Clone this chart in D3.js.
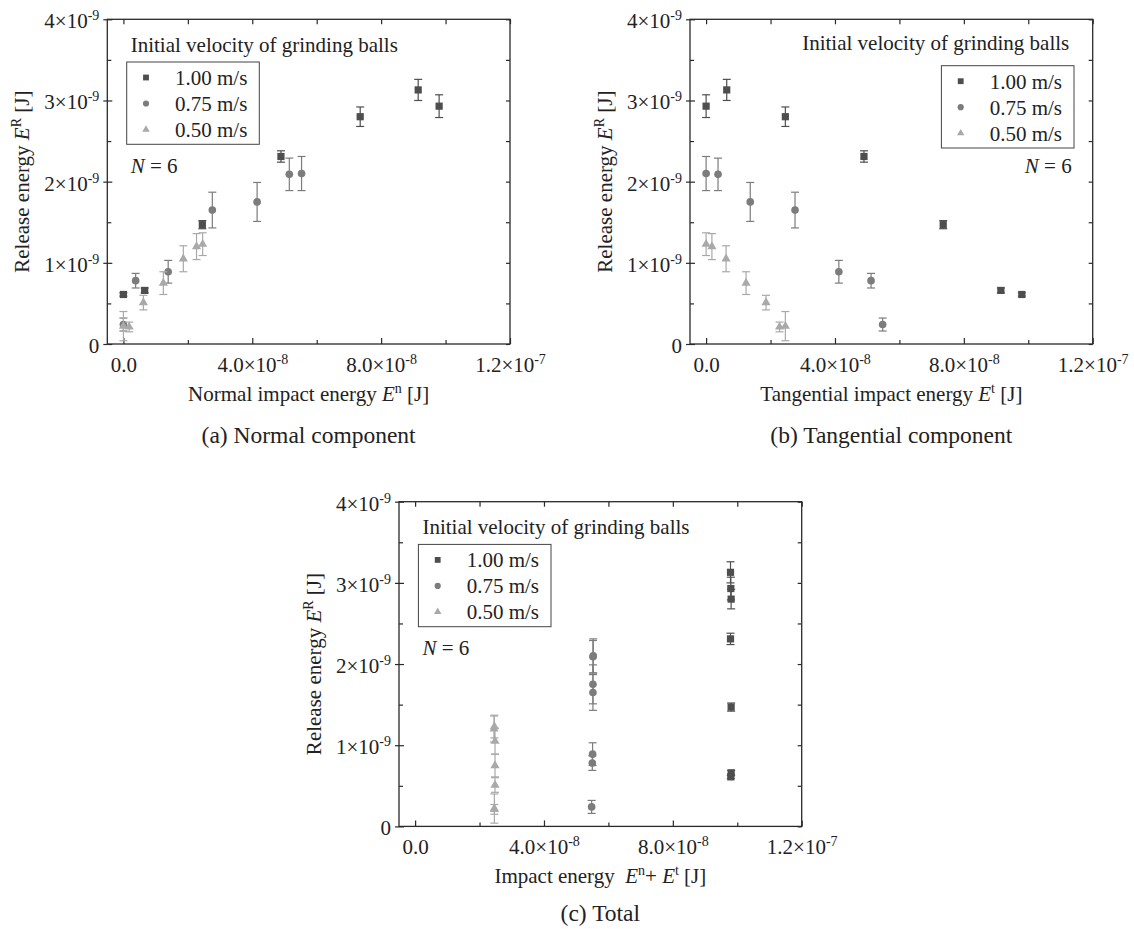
<!DOCTYPE html>
<html>
<head>
<meta charset="utf-8">
<script src="https://cdn.jsdelivr.net/npm/d3@7"></script>
<style>
body { margin: 0; background: #fff; }
svg, svg text { font-family: "Liberation Serif", "Times New Roman", serif; }
svg { display: block; }
text { white-space: pre; }
</style>
</head>
<body>
<script>
const W = 1134, H = 929;

const velocities = ["1.00 m/s", "0.75 m/s", "0.50 m/s"];
const colors = ["#4e4e4e", "#7c7c7c", "#a9a9a9"];

// normal / tangential impact energy [J], release energy [J], error bar half-height [J]
const en100 = [0, 0.66e-8, 2.45e-8, 4.89e-8, 7.35e-8, 9.15e-8, 9.80e-8];
const et100 = [9.80e-8, 9.15e-8, 7.36e-8, 4.90e-8, 2.46e-8, 0.64e-8, 0];
const er100 = [0.61e-9, 0.66e-9, 1.47e-9, 2.31e-9, 2.80e-9, 3.13e-9, 2.93e-9];
const err100 = [0.02e-9, 0.03e-9, 0.05e-9, 0.07e-9, 0.12e-9, 0.13e-9, 0.14e-9];

const en75 = [0, 0.38e-8, 1.39e-8, 2.76e-8, 4.15e-8, 5.15e-8, 5.53e-8];
const et75 = [5.48e-8, 5.12e-8, 4.12e-8, 2.76e-8, 1.37e-8, 0.37e-8, 0];
const er75 = [0.24e-9, 0.78e-9, 0.89e-9, 1.65e-9, 1.75e-9, 2.09e-9, 2.10e-9];
const err75 = [0.08e-9, 0.09e-9, 0.14e-9, 0.22e-9, 0.24e-9, 0.20e-9, 0.21e-9];

const en50 = [0, 0.18e-8, 0.62e-8, 1.24e-8, 1.86e-8, 2.27e-8, 2.46e-8];
const et50 = [2.46e-8, 2.28e-8, 1.86e-8, 1.24e-8, 0.62e-8, 0.18e-8, 0];
const er50 = [0.22e-9, 0.21e-9, 0.51e-9, 0.75e-9, 1.05e-9, 1.20e-9, 1.23e-9];
const err50 = [0.18e-9, 0.06e-9, 0.09e-9, 0.14e-9, 0.16e-9, 0.16e-9, 0.14e-9];

const xTicks = [0, 4e-8, 8e-8, 1.2e-7];
const xTickBase = ["0.0", "4.0×10", "8.0×10", "1.2×10"];
const xTickExp = ["", "-8", "-8", "-7"];
const xMinor = [2e-8, 6e-8, 1e-7];
const yTicks = [0, 1e-9, 2e-9, 3e-9, 4e-9];
const yTickBase = ["0", "1×10", "2×10", "3×10", "4×10"];
const yTickExp = ["", "-9", "-9", "-9", "-9"];
const yMinor = [0.5e-9, 1.5e-9, 2.5e-9, 3.5e-9];

const series = [
  { en: en100, et: et100, er: er100, err: err100, sym: d3.symbolSquare, size: 52, lsize: 34 },
  { en: en75, et: et75, er: er75, err: err75, sym: d3.symbolCircle, size: 46, lsize: 30 },
  { en: en50, et: et50, er: er50, err: err50, sym: d3.symbolTriangle, size: 36, lsize: 24 }
];

const pw = 402.7, ph = 324.7;
const x = d3.scaleLinear().domain([-0.5e-8, 1.2e-7]).range([0, pw]);
const y = d3.scaleLinear().domain([0, 4e-9]).range([ph, 0]);

const svg = d3.select("body").append("svg")
  .attr("width", W)
  .attr("height", H)
  .attr("font-family", "Liberation Serif, Times New Roman, serif");

function supLabels(axisG, base, exp) {
  axisG.selectAll(".tick text").each(function(d, i) {
    const t = d3.select(this).text(null);
    t.append("tspan").text(base[i]);
    if (exp[i]) t.append("tspan").attr("dy", -8).attr("font-size", 14).text(exp[i]);
  });
}

function styleAxis(axisG) {
  axisG.attr("font-family", "Liberation Serif, Times New Roman, serif").attr("font-size", 21).attr("color", "#2a2a2a");
  axisG.select(".domain").remove();
  axisG.selectAll(".tick line").attr("stroke-width", 1.2);
  axisG.selectAll(".tick text").attr("fill", "#222");
}

function panel(px, py, getX, titleParts, caption, legendRight) {
  const g = svg.append("g").attr("transform", `translate(${px},${py})`);

  // bottom axis with labels
  const bx = g.append("g").attr("transform", `translate(0,${ph})`)
    .call(d3.axisBottom(x).tickValues(xTicks).tickSize(-6));
  styleAxis(bx);
  bx.selectAll(".tick text").attr("y", 28).attr("dy", null);
  supLabels(bx, xTickBase, xTickExp);
  const bxm = g.append("g").attr("transform", `translate(0,${ph})`)
    .call(d3.axisBottom(x).tickValues(xMinor).tickSize(-4).tickFormat(""));
  styleAxis(bxm);

  // top axis
  const tx = g.append("g").call(d3.axisTop(x).tickValues(xTicks.concat(xMinor)).tickSize(-5).tickFormat(""));
  styleAxis(tx);

  // left axis with labels
  const ly = g.append("g").call(d3.axisLeft(y).tickValues(yTicks).tickSize(4).tickPadding(4));
  styleAxis(ly);
  ly.selectAll(".tick text").attr("x", -8).attr("dy", "0.4em");
  supLabels(ly, yTickBase, yTickExp);
  const lyi = g.append("g").call(d3.axisLeft(y).tickValues(yTicks).tickSize(-5).tickFormat(""));
  styleAxis(lyi);
  const lym = g.append("g").call(d3.axisLeft(y).tickValues(yMinor).tickSize(-4).tickFormat(""));
  styleAxis(lym);

  // right axis
  const ry = g.append("g").attr("transform", `translate(${pw},0)`)
    .call(d3.axisRight(y).tickValues(yTicks.concat(yMinor)).tickSize(-4).tickFormat(""));
  styleAxis(ry);

  // frame
  g.append("rect")
    .attr("width", pw).attr("height", ph)
    .attr("fill", "none").attr("stroke", "#2a2a2a").attr("stroke-width", 1.3);

  // error bars and markers
  series.forEach((s, si) => {
    const pts = s.er.map((v, i) => ({ x: getX(s, i), y: v, e: s.err[i] }));
    const eg = g.append("g").attr("stroke", colors[si]).attr("stroke-width", 1.2);
    pts.forEach(p => {
      const cx = x(p.x);
      eg.append("line").attr("x1", cx).attr("x2", cx).attr("y1", y(p.y - p.e)).attr("y2", y(p.y + p.e));
      eg.append("line").attr("x1", cx - 4).attr("x2", cx + 4).attr("y1", y(p.y - p.e)).attr("y2", y(p.y - p.e));
      eg.append("line").attr("x1", cx - 4).attr("x2", cx + 4).attr("y1", y(p.y + p.e)).attr("y2", y(p.y + p.e));
    });
    g.append("g").selectAll("path")
      .data(pts)
      .enter()
      .append("path")
      .attr("transform", d => `translate(${x(d.x)},${y(d.y)})`)
      .attr("d", d3.symbol().type(s.sym).size(s.size))
      .attr("fill", colors[si]);
  });

  // legend
  const boxW = 132.6, boxH = 82.3;
  const boxX = legendRight ? pw - 18.7 - boxW : 19.4;
  const boxY = legendRight ? 46.4 : 42.7;
  g.append("text")
    .attr("x", legendRight ? pw - 23.4 : 23.4)
    .attr("y", legendRight ? 31 : 32.4)
    .attr("text-anchor", legendRight ? "end" : "start")
    .attr("font-size", 21)
    .attr("fill", "#222")
    .text("Initial velocity of grinding balls");
  g.append("rect")
    .attr("x", boxX).attr("y", boxY).attr("width", boxW).attr("height", boxH)
    .attr("fill", "none").attr("stroke", "#444").attr("stroke-width", 1);
  const leg = g.append("g").selectAll(".legend")
    .data(velocities)
    .enter()
    .append("g")
    .attr("class", "legend")
    .attr("transform", (d, i) => `translate(${boxX}, ${boxY + 15.5 + i * 26})`);
  leg.append("path")
    .attr("transform", "translate(19.3,0)")
    .attr("d", (d, i) => d3.symbol().type(series[i].sym).size(series[i].lsize)())
    .attr("fill", (d, i) => colors[i]);
  leg.append("text")
    .attr("x", 48.3)
    .attr("y", 7.5)
    .attr("font-size", 21)
    .attr("fill", "#222")
    .text(d => d);

  const nt = g.append("text")
    .attr("x", legendRight ? pw - 21 : 23.4)
    .attr("y", legendRight ? 154 : 153.4)
    .attr("text-anchor", legendRight ? "end" : "start")
    .attr("font-size", 21)
    .attr("fill", "#222");
  nt.append("tspan").attr("font-style", "italic").text("N");
  nt.append("tspan").text(" = 6");

  // axis titles
  const xt = g.append("text")
    .attr("x", pw / 2).attr("y", ph + 57)
    .attr("text-anchor", "middle")
    .attr("font-size", 21)
    .attr("fill", "#222");
  titleParts.forEach(p => {
    const ts = xt.append("tspan").text(p.t);
    if (p.it) ts.attr("font-style", "italic");
    if (p.sup) ts.attr("font-size", 14).attr("dy", -8);
    if (p.down) ts.attr("dy", 8);
  });

  const yt = g.append("text")
    .attr("transform", `translate(${-78},${ph / 2}) rotate(-90)`)
    .attr("text-anchor", "middle")
    .attr("font-size", 21)
    .attr("fill", "#222");
  yt.append("tspan").text("Release energy ");
  yt.append("tspan").attr("font-style", "italic").text("E");
  yt.append("tspan").attr("font-size", 14).attr("dy", -8).text("R");
  yt.append("tspan").attr("dy", 8).text(" [J]");

  g.append("text")
    .attr("x", pw / 2).attr("y", ph + (caption === "(c) Total" ? 95 : 99))
    .attr("text-anchor", "middle")
    .attr("font-size", 23.5)
    .attr("fill", "#222")
    .text(caption);
}

panel(107.3, 19.3, (s, i) => s.en[i], [
  { t: "Normal impact energy " }, { t: "E", it: true }, { t: "n", sup: true }, { t: " [J]", down: true }
], "(a) Normal component", false);

panel(690, 19.3, (s, i) => s.et[i], [
  { t: "Tangential impact energy " }, { t: "E", it: true }, { t: "t", sup: true }, { t: " [J]", down: true }
], "(b) Tangential component", true);

panel(399, 501.7, (s, i) => s.en[i] + s.et[i], [
  { t: "Impact energy  " }, { t: "E", it: true }, { t: "n", sup: true }, { t: "+ ", down: true },
  { t: "E", it: true }, { t: "t", sup: true }, { t: " [J]", down: true }
], "(c) Total", false);
</script>
</body>
</html>
